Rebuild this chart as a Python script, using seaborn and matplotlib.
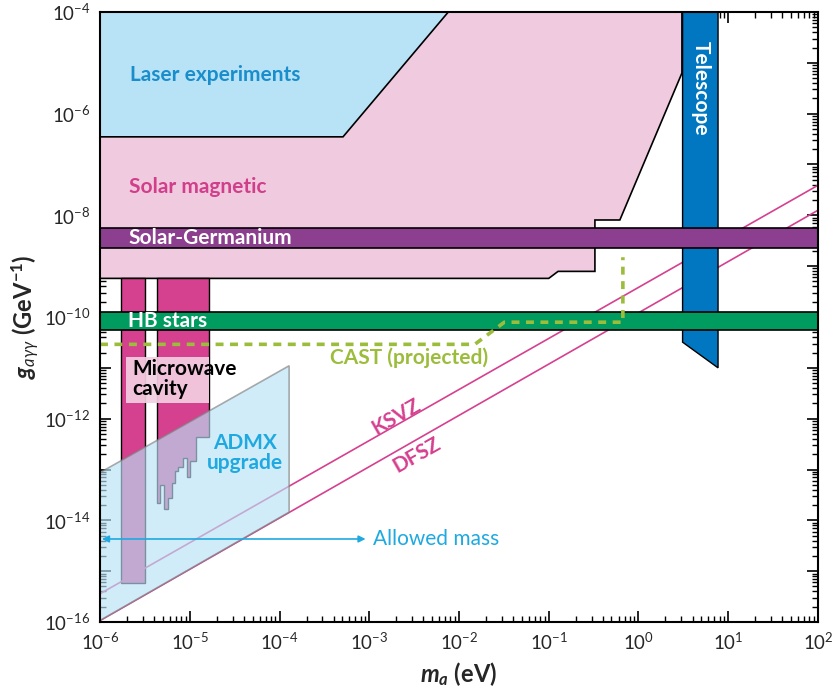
import numpy as np
import pandas as pd
import matplotlib
matplotlib.use("Agg")
import matplotlib.pyplot as plt
import matplotlib.ticker as mticker
import seaborn as sns

# axion mass m_a (eV) and coupling g_agg (GeV^-1)
laser_m = [1e-6, 7.6e-3, 5.1e-4, 1e-6]
laser_g = [1e-4, 1e-4, 3.5e-7, 3.5e-7]

solar_m = [1e-6, 3.05, 3.05, 0.62, 0.327, 0.327, 0.127, 0.10, 1e-6]
solar_g = [1e-4, 1e-4, 6.3e-6, 8.1e-9, 8.1e-9, 7.9e-10, 7.9e-10, 5.75e-10, 5.75e-10]

germanium_g = [2.3e-9, 5.6e-9]
hb_g = [5.5e-11, 1.23e-10]

telescope_m = [3.1, 7.7, 7.7, 3.1]
telescope_g = [1e-4, 1e-4, 1e-11, 3.2e-11]

cavity1_m = [1.7e-6, 3.2e-6]
cavity1_g = [5.75e-16, 5.75e-10]
cavity2_m = [4.3e-6, 4.7e-6, 5.2e-6, 5.7e-6, 6.3e-6, 6.9e-6, 7.4e-6, 8.4e-6,
             9.3e-6, 1.0e-5, 1.17e-5, 1.64e-5]
cavity2_g = [2.2e-14, 4.9e-14, 1.7e-14, 2.8e-14, 5.4e-14, 9.5e-14, 1.1e-13,
             1.7e-13, 7.1e-14, 1.5e-13, 4.3e-13]
cavity2_top = 5.75e-10
cavity_box_m = [1.95e-6, 1.64e-5]
cavity_box_g = [2.0e-12, 1.6e-11]

admx_m = [1e-6, 1.28e-4, 1.28e-4, 1e-6]
admx_g = [1.07e-16, 1.45e-14, 1.1e-11, 8.7e-14]

ksvz_m = [1e-6, 1e2]
ksvz_g = [3.6e-16, 3.9e-8]
dfsz_m = [1e-6, 1e2]
dfsz_g = [1.07e-16, 1.26e-8]

cast_m = [1e-6, 0.015, 0.032, 0.67, 0.67]
cast_g = [2.9e-11, 2.9e-11, 7.9e-11, 7.9e-11, 1.5e-9]

allowed_m = [1.0e-6, 9.1e-4]
allowed_g = 4.3e-15

x_decades = list(range(-6, 3))
y_decades = list(range(-16, -3))

sns.set_theme(style="ticks")
plt.rcParams['font.family'] = ['Lato', 'DejaVu Sans']
plt.rcParams['mathtext.fontset'] = 'custom'
plt.rcParams['mathtext.rm'] = 'Lato'
plt.rcParams['mathtext.it'] = 'Lato:italic'
plt.rcParams['mathtext.bf'] = 'Lato:bold'
plt.rcParams['mathtext.bfit'] = 'Lato:italic:bold'

fig = plt.figure(figsize=(8.35, 6.89), dpi=100)
ax = fig.add_axes([0.1198, 0.0972, 0.8598, 0.8854])
ax.set_xscale('log')
ax.set_yscale('log')
ax.set_xlim(1e-6, 1e2)
ax.set_ylim(1e-16, 1e-4)

edge = dict(edgecolor='black', linewidth=1.2)
ax.fill(solar_m, solar_g, facecolor='#f0cbe0', zorder=1, **edge)
ax.fill(laser_m, laser_g, facecolor='#b8e3f6', zorder=2, **edge)

# cavity bars
ax.fill([cavity1_m[0], cavity1_m[1], cavity1_m[1], cavity1_m[0]],
        [cavity1_g[0], cavity1_g[0], cavity1_g[1], cavity1_g[1]],
        facecolor='#d5408f', zorder=3, edgecolor='black', linewidth=1)
step_x = [cavity2_m[0]]
step_y = [cavity2_top]
for i, gv in enumerate(cavity2_g):
    step_x += [cavity2_m[i], cavity2_m[i + 1]]
    step_y += [gv, gv]
step_x += [cavity2_m[-1]]
step_y += [cavity2_top]
ax.fill(step_x, step_y, facecolor='#d5408f', zorder=3, edgecolor='black', linewidth=1)
ax.fill([cavity_box_m[0], cavity_box_m[1], cavity_box_m[1], cavity_box_m[0]],
        [cavity_box_g[0], cavity_box_g[0], cavity_box_g[1], cavity_box_g[1]],
        facecolor='#f3cfe2', alpha=0.92, edgecolor='none', zorder=3.5)

# QCD axion model lines and CAST
lines = pd.concat([
    pd.DataFrame({'m': ksvz_m, 'g': ksvz_g, 'model': 'KSVZ'}),
    pd.DataFrame({'m': dfsz_m, 'g': dfsz_g, 'model': 'DFSZ'}),
])
sns.lineplot(data=lines, x='m', y='g', hue='model', units='model', estimator=None,
             palette={'KSVZ': '#d6408f', 'DFSZ': '#d6408f'}, linewidth=1.2,
             legend=False, ax=ax, zorder=3)

ax.fill(telescope_m, telescope_g, facecolor='#0077c0', zorder=4, edgecolor='black', linewidth=1)

ax.axhspan(germanium_g[0], germanium_g[1], facecolor='#8c3f8e', edgecolor='black', linewidth=1.2, zorder=5)
ax.axhspan(hb_g[0], hb_g[1], facecolor='#009b5e', edgecolor='black', linewidth=1.2, zorder=5)

ax.fill(admx_m, admx_g, facecolor='#b9e2f7', alpha=0.65, zorder=6,
        edgecolor='#808080', linewidth=1.2)

cast = pd.DataFrame({'m': cast_m, 'g': cast_g})
sns.lineplot(data=cast, x='m', y='g', sort=False, estimator=None, color='#9cbd3c',
             linewidth=2.6, linestyle=(0, (2.2, 1.8)), ax=ax, zorder=7)

ax.annotate('', xy=(allowed_m[0] * 1.05, allowed_g), xytext=(allowed_m[1], allowed_g),
            arrowprops=dict(arrowstyle='<|-|>', color='#1fa9e1', lw=1.2,
                            mutation_scale=10, shrinkA=0, shrinkB=0), zorder=8)

# labels
fs = 15
ax.text(2.16e-6, 5.8e-6, 'Laser experiments', color='#1a8dcb', fontsize=fs,
        fontweight='bold', va='center', zorder=9)
ax.text(2.1e-6, 3.6e-8, 'Solar magnetic', color='#d13f8b', fontsize=fs,
        fontweight='bold', va='center', zorder=9)
ax.text(2.05e-6, 3.6e-9, 'Solar-Germanium', color='white', fontsize=fs,
        fontweight='bold', va='center', zorder=9)
ax.text(2.05e-6, 8.2e-11, 'HB stars', color='white', fontsize=fs,
        fontweight='bold', va='center', zorder=9)
ax.text(2.8e-3, 1.55e-11, 'CAST (projected)', color='#9cbd3c', fontsize=fs,
        fontweight='bold', ha='center', va='center', zorder=9)
ax.text(2.28e-6, 6e-12, 'Microwave\ncavity', color='black', fontsize=fs,
        fontweight='bold', va='center', linespacing=1.0, zorder=9)
ax.text(4.1e-5, 2.1e-13, 'ADMX\nupgrade', color='#1fa9e1', fontsize=fs,
        fontweight='bold', ha='center', va='center', linespacing=1.0, zorder=9)
ax.text(2.0e-3, 1.07e-12, 'KSVZ', color='#d6408f', fontsize=fs, fontweight='bold',
        ha='center', va='center', rotation=29.6, rotation_mode='anchor', zorder=9)
ax.text(3.4e-3, 1.9e-13, 'DFSZ', color='#d6408f', fontsize=fs, fontweight='bold',
        ha='center', va='center', rotation=29.6, rotation_mode='anchor', zorder=9)
ax.text(4.9, 3.2e-6, 'Telescope', color='white', fontsize=fs, fontweight='bold',
        ha='center', va='center', rotation=-90, zorder=9)
ax.text(1.1e-3, allowed_g, 'Allowed mass', color='#1fa9e1', fontsize=fs,
        va='center', zorder=9)

# axes, ticks
for s in ax.spines.values():
    s.set_linewidth(1.5)
    s.set_color('black')
    s.set_zorder(10)

ax.xaxis.set_major_locator(mticker.FixedLocator([10.0 ** e for e in x_decades]))
ax.yaxis.set_major_locator(mticker.FixedLocator([10.0 ** e for e in y_decades]))
ax.xaxis.set_minor_locator(mticker.FixedLocator(
    [k * 10.0 ** e for e in x_decades[:-1] for k in range(2, 10)]))
ax.yaxis.set_minor_locator(mticker.FixedLocator(
    [k * 10.0 ** e for e in y_decades[:-1] for k in range(2, 10)]))


def xfmt(v, _):
    return r'$10^{%d}$' % int(round(np.log10(v)))


def yfmt(v, _):
    e = int(round(np.log10(v)))
    return r'$10^{%d}$' % e if e % 2 == 0 else ''


ax.xaxis.set_major_formatter(mticker.FuncFormatter(xfmt))
ax.yaxis.set_major_formatter(mticker.FuncFormatter(yfmt))
ax.xaxis.set_minor_formatter(mticker.NullFormatter())
ax.yaxis.set_minor_formatter(mticker.NullFormatter())
ax.tick_params(which='both', direction='in', top=True, right=True, color='black',
               labelsize=13.5, zorder=10)
ax.tick_params(which='major', length=8, width=1.2, pad=7)
ax.tick_params(which='minor', length=4, width=1.0)

ax.set_xlabel(r'$\mathbfit{m}_{\mathbfit{a}}$ (eV)', fontsize=17, fontweight='bold', labelpad=5)
ax.set_ylabel(r'$\mathbfit{g}_{a\gamma\gamma}$ (GeV$^{\mathbf{-1}}$)', fontsize=17,
              fontweight='bold', labelpad=2)

fig.savefig('out.png', dpi=100)
